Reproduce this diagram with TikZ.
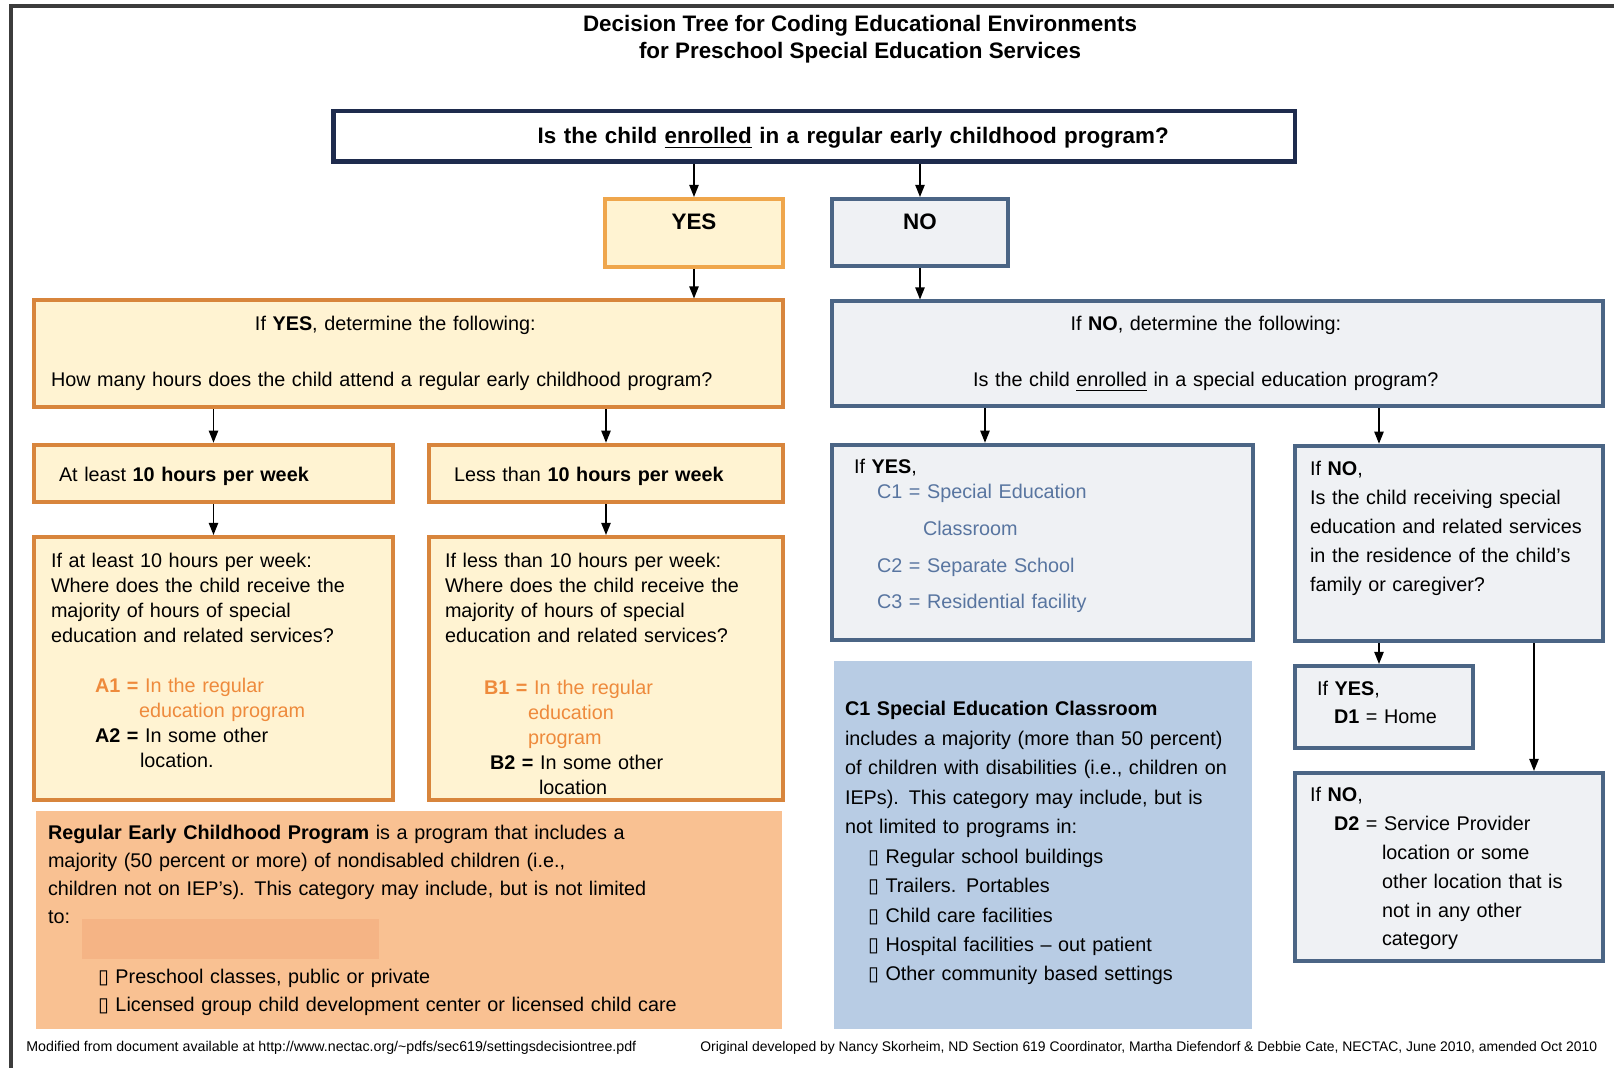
\documentclass[tikz,border=0pt]{standalone}
\usepackage{fontspec}
\setmainfont{Liberation Sans}
\newfontfamily\symfont{DejaVu Sans}
\usetikzlibrary{arrows.meta}

\definecolor{ylw}{HTML}{FFF3D2}
\definecolor{org}{HTML}{D8853C}
\definecolor{lorg}{HTML}{EFA64C}
\definecolor{gry}{HTML}{EFF1F4}
\definecolor{slt}{HTML}{4B6585}
\definecolor{nvy}{HTML}{1E2B4D}
\definecolor{frm}{HTML}{3C3C3C}
\definecolor{peach}{HTML}{F9C192}
\definecolor{peachd}{HTML}{F5B485}
\definecolor{sky}{HTML}{B8CCE4}
\definecolor{otxt}{HTML}{EE8A3C}
\definecolor{btxt}{HTML}{5875A0}

\newcommand{\nobox}{{\symfont\char"25AF}}

\begin{document}
\begin{tikzpicture}[x=0.5pt,y=-0.5pt,
  box/.style={draw,line width=2pt,inner sep=0pt,align=left,text height=0pt},
  ybox/.style={box,draw=org,fill=ylw},
  gbox/.style={box,draw=slt,fill=gry},
  arr/.style={line width=0.8pt,-{Triangle[length=6pt,width=4.6pt]}}]
\useasboundingbox (0,0) rectangle (1614,1068);
\clip (0,0) rectangle (1614,1068);

\draw[line width=2pt,frm] (11.3,1075) -- (11.3,6.3) -- (1620,6.3);

\node[align=center,inner sep=0pt,font=\fontsize{11.2}{13.5}\selectfont\bfseries] (T) at (860,39.5)
  {Decision Tree for Coding Educational Environments\\for Preschool Special Education Services};

\node[box,draw=nvy,fill=white,line width=2.2pt,minimum width=480.75pt,minimum height=25.3pt,
  text width=470pt,align=center,text height=7.7pt,text depth=0pt,
  font=\fontsize{11.2}{13.5}\selectfont\bfseries] (Q) at (814.25,136.3)
  {\hspace*{39pt}Is the child \underline{enrolled} in a regular early childhood program?};

\node[box,draw=lorg,fill=ylw,minimum width=89pt,minimum height=34pt,text width=80pt,align=center,
  text depth=3pt,font=\fontsize{11.2}{13.5}\selectfont\bfseries] (Y) at (694,233) {YES};
\node[gbox,minimum width=88pt,minimum height=33.5pt,text width=80pt,align=center,
  text depth=2.5pt,font=\fontsize{11.2}{13.5}\selectfont\bfseries] (N) at (920,232.5) {NO};

\node[ybox,minimum width=374.5pt,minimum height=53.5pt,text width=357.5pt,
  text depth=23pt,font=\fontsize{9.9}{12.5}\selectfont] (YD) at (408.5,354)
  {\hspace*{102pt}If \textbf{YES}, determine the following:\\[15.5pt]
   How many hours does the child attend a regular early childhood program?};
\node[gbox,minimum width=385.5pt,minimum height=52.5pt,text width=244.5pt,
  text depth=23pt,font=\fontsize{9.9}{12.5}\selectfont] (ND) at (1217.5,354)
  {\hspace*{48.75pt}If \textbf{NO}, determine the following:\\[15.5pt]
   Is the child \underline{enrolled} in a special education program?};

\node[ybox,minimum width=179.5pt,minimum height=28.65pt,text width=154.5pt,
  text height=8pt,text depth=0pt,font=\fontsize{9.9}{12.5}\selectfont] (AL) at (213.5,473.4)
  {At least \textbf{10 hours per week}};
\node[ybox,minimum width=177pt,minimum height=28.65pt,text width=152pt,
  text height=8pt,text depth=0pt,font=\fontsize{9.9}{12.5}\selectfont] (LT) at (606,473.4)
  {Less than \textbf{10 hours per week}};

\node[ybox,minimum width=179.5pt,minimum height=131.5pt,text width=162.5pt,
  text depth=100.5pt,font=\fontsize{9.9}{12.5}\selectfont] (A) at (213.5,668.5)
  {If at least 10 hours per week:\\
   Where does the child receive the\\
   majority of hours of special\\
   education and related services?\\[12.5pt]
   \hspace*{22pt}\textcolor{otxt}{\textbf{A1 =} In the regular}\\
   \hspace*{44pt}\textcolor{otxt}{education program}\\
   \hspace*{22pt}\textbf{A2 =} In some other\\
   \hspace*{44.5pt}location.};
\node[ybox,minimum width=177pt,minimum height=131.5pt,text width=161pt,
  text depth=100.5pt,font=\fontsize{9.9}{12.5}\selectfont] (B) at (606,668.5)
  {If less than 10 hours per week:\\
   Where does the child receive the\\
   majority of hours of special\\
   education and related services?\\[13.5pt]
   \hspace*{19.5pt}\textcolor{otxt}{\textbf{B1 =} In the regular}\\
   \hspace*{41.5pt}\textcolor{otxt}{education}\\
   \hspace*{41.5pt}\textcolor{otxt}{program}\\
   \hspace*{22.5pt}\textbf{B2 =} In some other\\
   \hspace*{47pt}location};

\node[box,draw=none,fill=peach,minimum width=373pt,minimum height=109pt,text width=361pt,
  text depth=80pt,font=\fontsize{9.9}{14}\selectfont] (RE) at (409,920)
  {\textbf{Regular Early Childhood Program} is a program that includes a\\
   majority (50 percent or more) of nondisabled children (i.e.,\\
   children not on IEP's). This category may include, but is not limited\\
   to:\\[16pt]
   \hspace*{25pt}\nobox\ Preschool classes, public or private\\
   \hspace*{25pt}\nobox\ Licensed group child development center or licensed child care};
\fill[peachd] (82,919) rectangle (379,959);

\node[gbox,minimum width=210.5pt,minimum height=97.65pt,text width=188.5pt,
  text depth=68.4pt,font=\fontsize{9.9}{12.5}\selectfont] (C) at (1042.5,542.4)
  {If \textbf{YES},\\
   \hspace*{11.5pt}\textcolor{btxt}{C1 = Special Education}\\[6pt]
   \hspace*{34.5pt}\textcolor{btxt}{Classroom}\\[6pt]
   \hspace*{11.5pt}\textcolor{btxt}{C2 = Separate School}\\[5.5pt]
   \hspace*{11.5pt}\textcolor{btxt}{C3 = Residential facility}};
\node[gbox,minimum width=154pt,minimum height=97.65pt,text width=139pt,
  text depth=67.4pt,font=\fontsize{9.9}{14.5}\selectfont] (D) at (1449,543.4)
  {If \textbf{NO},\\
   Is the child receiving special\\
   education and related services\\
   in the residence of the child's\\
   family or caregiver?};

\node[box,draw=none,fill=sky,minimum width=209pt,minimum height=184pt,text width=198pt,
  text depth=129pt,font=\fontsize{9.9}{14.72}\selectfont] (SE) at (1043,845)
  {\textbf{C1 Special Education Classroom}\\
   includes a majority (more than 50 percent)\\
   of children with disabilities (i.e., children on\\
   IEPs). This category may include, but is\\
   not limited to programs in:\\
   \hspace*{11.5pt}\nobox\ Regular school buildings\\
   \hspace*{11.5pt}\nobox\ Trailers. Portables\\
   \hspace*{11.5pt}\nobox\ Child care facilities\\
   \hspace*{11.5pt}\nobox\ Hospital facilities -- out patient\\
   \hspace*{11.5pt}\nobox\ Other community based settings};

\node[gbox,minimum width=89pt,minimum height=41pt,text width=67pt,
  text depth=11pt,font=\fontsize{9.9}{14}\selectfont] (D1) at (1384,707)
  {If \textbf{YES},\\
   \hspace*{8.5pt}\textbf{D1} = Home};
\node[gbox,minimum width=154pt,minimum height=94pt,text width=139pt,
  text depth=65pt,font=\fontsize{9.9}{14.4}\selectfont] (D2) at (1449,867)
  {If \textbf{NO},\\
   \hspace*{12pt}\textbf{D2} = Service Provider\\
   \hspace*{36pt}location or some\\
   \hspace*{36pt}other location that is\\
   \hspace*{36pt}not in any other\\
   \hspace*{36pt}category};

\coordinate (cx) at (985,0);
\coordinate (dx) at (1379,0);
\coordinate (ex) at (1534,0);

\draw[arr] (Q.south -| Y) -- (Y);
\draw[arr] (Q.south -| N) -- (N);
\draw[arr] (Y) -- (Y |- YD.north);
\draw[arr] (N) -- (N |- ND.north);
\draw[arr] (YD.south -| AL) -- (AL);
\draw[arr] (YD.south -| LT) -- (LT);
\draw[arr] (AL) -- (A);
\draw[arr] (LT) -- (B);
\draw[arr] (ND.south -| cx) -- (C.north -| cx);
\draw[arr] (ND.south -| dx) -- (D.north -| dx);
\draw[arr] (D.south -| dx) -- (D1.north -| dx);
\draw[arr] (D.south -| ex) -- (D2.north -| ex);

\node[anchor=west,inner sep=0pt,font=\fontsize{7.1}{8}\selectfont] (FL) at (26,1048)
  {Modified from document available at http://www.nectac.org/\textasciitilde pdfs/sec619/settingsdecisiontree.pdf};
\node[anchor=west,inner sep=0pt,font=\fontsize{6.95}{8}\selectfont] (FR) at (700,1048)
  {Original developed by Nancy Skorheim, ND Section 619 Coordinator, Martha Diefendorf \& Debbie Cate, NECTAC, June 2010, amended Oct 2010};

\end{tikzpicture}
\end{document}
